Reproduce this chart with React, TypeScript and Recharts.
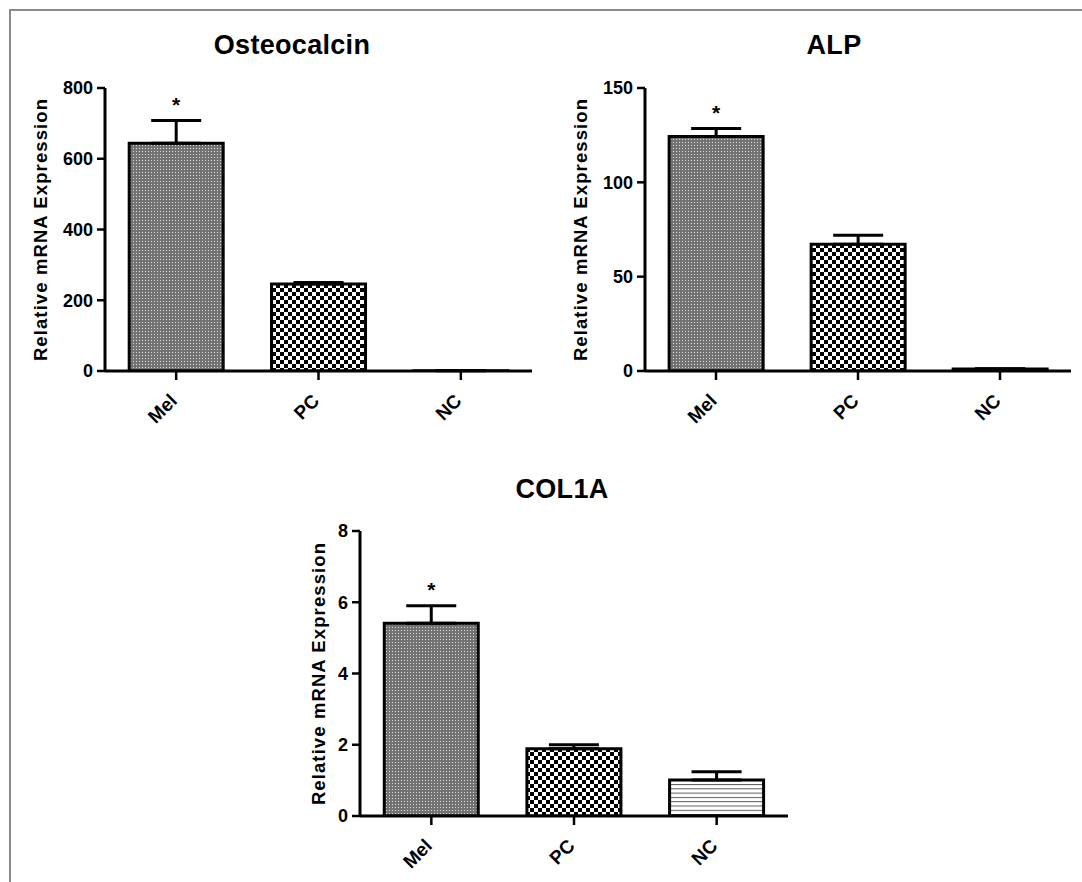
import React from 'react';
import { ComposedChart, Bar, XAxis, YAxis, ErrorBar, Cell, Scatter, Label } from 'recharts';

const categories = ['Mel', 'PC', 'NC'];

const osteocalcinMean = [644, 246, 1];
const osteocalcinSem = [64, 4, 0.3];
const osteocalcinTicks = [0, 200, 400, 600, 800];

const alpMean = [124.3, 67.2, 1];
const alpSem = [4.2, 4.7, 0.2];
const alpTicks = [0, 50, 100, 150];

const col1aMean = [5.41, 1.89, 1.01];
const col1aSem = [0.49, 0.11, 0.23];
const col1aTicks = [0, 2, 4, 6, 8];

const significant = [true, false, false];

const FONT = '"Liberation Sans", Arial, Helvetica, sans-serif';

const buildData = (mean: number[], sem: number[]) =>
  categories.map((name, i) => ({
    name,
    value: mean[i],
    err: [0, sem[i]],
    star: significant[i] ? mean[i] + sem[i] : null,
  }));

const StarShape = (props: any) => {
  const { cx, cy } = props;
  if (cx == null || cy == null || Number.isNaN(cx) || Number.isNaN(cy)) return <g />;
  return (
    <text x={cx} y={cy - 9} textAnchor="middle" fontSize={21} fontWeight="bold" fontFamily={FONT} fill="#000">
      *
    </text>
  );
};

const XTick = (props: any) => {
  const { x, y, payload } = props;
  return (
    <g transform={`translate(${x + 2},${y + 22})`}>
      <text x={0} y={0} textAnchor="end" transform="rotate(-45)" fontSize={19} fontWeight="bold" fontFamily={FONT} fill="#000">
        {payload.value}
      </text>
    </g>
  );
};

const Patterns = ({ id }: { id: string }) => (
  <defs>
    <pattern id={`mel-${id}`} patternUnits="userSpaceOnUse" width={3} height={3}>
      <rect x={0} y={0} width={3} height={3} fill="#737373" />
      <rect x={1} y={1} width={1} height={1} fill="#dcdcdc" />
    </pattern>
    <pattern id={`pc-${id}`} patternUnits="userSpaceOnUse" width={8} height={8}>
      <rect x={0} y={0} width={8} height={8} fill="#ffffff" />
      <rect x={0} y={0} width={4} height={4} fill="#000000" />
      <rect x={4} y={4} width={4} height={4} fill="#000000" />
    </pattern>
    <pattern id={`nc-${id}`} patternUnits="userSpaceOnUse" width={4} height={4.3}>
      <rect x={0} y={0} width={4} height={4.3} fill="#ffffff" />
      <rect x={0} y={0} width={4} height={1} fill="#5a5a5a" />
    </pattern>
  </defs>
);

type PanelProps = {
  id: string;
  mean: number[];
  sem: number[];
  ticks: number[];
  left: number;
  top: number;
  width: number;
  height: number;
  margin: { top: number; right: number; bottom: number; left: number };
  labelDx: number;
};

const Panel = ({ id, mean, sem, ticks, left, top, width, height, margin, labelDx }: PanelProps) => {
  const data = buildData(mean, sem);
  const fills = [`url(#mel-${id})`, `url(#pc-${id})`, `url(#nc-${id})`];
  return (
    <div style={{ position: 'absolute', left, top, width, height }}>
      <ComposedChart width={width} height={height} data={data} margin={margin} barCategoryGap="17%">
        <Patterns id={id} />
        <XAxis
          dataKey="name"
          type="category"
          height={40}
          axisLine={{ stroke: '#000', strokeWidth: 3 }}
          tickLine={{ stroke: '#000', strokeWidth: 2.5 }}
          tickSize={9}
          tickMargin={0}
          tick={<XTick />}
          interval={0}
        />
        <YAxis
          type="number"
          domain={[0, ticks[ticks.length - 1]]}
          ticks={ticks}
          width={70}
          axisLine={{ stroke: '#000', strokeWidth: 3 }}
          tickLine={{ stroke: '#000', strokeWidth: 2.5 }}
          tickSize={8}
          tickMargin={4}
          tick={{ fill: '#000', fontSize: 18, fontWeight: 'bold', fontFamily: FONT }}
          allowDataOverflow
        >
          <Label
            content={(p: any) => {
              const vb = p.viewBox || {};
              const cx = vb.x + vb.width + labelDx;
              const cy = vb.y + vb.height / 2;
              return (
                <text
                  x={cx}
                  y={cy}
                  transform={`rotate(-90, ${cx}, ${cy})`}
                  textAnchor="middle"
                  dominantBaseline="central"
                  fontSize={18.5}
                  fontWeight="bold"
                  letterSpacing={1.1}
                  fontFamily={FONT}
                  fill="#000"
                >
                  Relative mRNA Expression
                </text>
              );
            }}
          />
        </YAxis>
        <Bar dataKey="value" stroke="#000" strokeWidth={3} isAnimationActive={false}>
          {data.map((d, i) => (
            <Cell key={d.name} fill={fills[i]} />
          ))}
          <ErrorBar dataKey="err" direction="y" width={25} stroke="#000" strokeWidth={3} />
        </Bar>
        <Scatter dataKey="star" shape={<StarShape />} isAnimationActive={false} />
      </ComposedChart>
    </div>
  );
};

const titleStyle = (center: number, top: number): React.CSSProperties => ({
  position: 'absolute',
  left: center - 150,
  top,
  width: 300,
  textAlign: 'center',
  fontFamily: FONT,
  fontWeight: 'bold',
  fontSize: 27,
  lineHeight: '27px',
  color: '#000',
  letterSpacing: 0.3,
});

export default function App() {
  return (
    <div style={{ position: 'absolute', left: 0, top: 0, width: 1082, height: 882, background: '#fff', overflow: 'hidden' }}>
      <div
        style={{
          position: 'absolute',
          left: 9,
          top: 9,
          width: 1100,
          height: 900,
          borderLeft: '2px solid #8a8a8a',
          borderTop: '2px solid #8a8a8a',
        }}
      />
      <div style={titleStyle(292, 32)}>Osteocalcin</div>
      <div style={titleStyle(834, 32)}>ALP</div>
      <div style={titleStyle(562, 476)}>COL1A</div>
      <Panel
        id="oc"
        mean={osteocalcinMean}
        sem={osteocalcinSem}
        ticks={osteocalcinTicks}
        left={0}
        top={0}
        width={540}
        height={440}
        margin={{ top: 88, right: 8, bottom: 29, left: 35 }}
        labelDx={-65}
      />
      <Panel
        id="alp"
        mean={alpMean}
        sem={alpSem}
        ticks={alpTicks}
        left={540}
        top={0}
        width={542}
        height={440}
        margin={{ top: 88, right: 11, bottom: 29, left: 35 }}
        labelDx={-65}
      />
      <Panel
        id="col"
        mean={col1aMean}
        sem={col1aSem}
        ticks={col1aTicks}
        left={250}
        top={440}
        width={560}
        height={442}
        margin={{ top: 91, right: 22, bottom: 26, left: 40 }}
        labelDx={-42}
      />
    </div>
  );
}
